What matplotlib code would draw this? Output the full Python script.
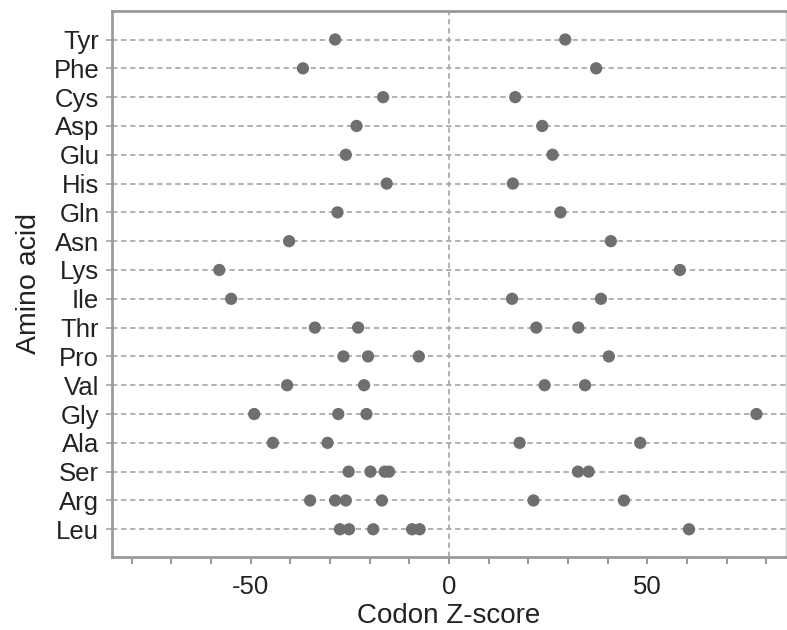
import matplotlib
matplotlib.use("Agg")
import matplotlib.pyplot as plt
from matplotlib.ticker import MultipleLocator

plt.rcParams['font.family'] = ['Liberation Sans', 'DejaVu Sans']
plt.rcParams['axes.unicode_minus'] = False

# amino acids, bottom to top
amino_acids = ['Leu', 'Arg', 'Ser', 'Ala', 'Gly', 'Val', 'Pro', 'Thr', 'Ile',
               'Lys', 'Asn', 'Gln', 'His', 'Glu', 'Asp', 'Cys', 'Phe', 'Tyr']

# codon Z-scores per amino acid
z_scores = {
    'Tyr': [-28.7, 29.3],
    'Phe': [-36.8, 37.1],
    'Cys': [-16.6, 16.7],
    'Asp': [-23.3, 23.5],
    'Glu': [-26.0, 26.1],
    'His': [-15.7, 16.1],
    'Gln': [-28.1, 28.1],
    'Asn': [-40.3, 40.8],
    'Lys': [-57.9, 58.2],
    'Ile': [-54.9, 15.9, 38.3],
    'Thr': [-33.8, -22.9, 22.0, 32.6],
    'Pro': [-26.6, -20.4, -7.6, 40.3],
    'Val': [-40.8, -21.4, 24.1, 34.3],
    'Gly': [-49.1, -27.9, -20.8, 77.5],
    'Ala': [-44.4, -30.6, 17.8, 48.2],
    'Ser': [-25.3, -19.8, -16.2, -15.1, 32.5, 35.2],
    'Arg': [-35.0, -28.7, -26.0, -16.9, 21.3, 44.1],
    'Leu': [-27.5, -25.2, -19.1, -9.3, -7.4, 60.5],
}

x_ticks = [-50, 0, 50]

fig = plt.figure(figsize=(7.87, 6.3), dpi=100)
ax = fig.add_axes([0.142, 0.116, 0.857, 0.867])

grid_col = '#ababab'
for i, aa in enumerate(amino_acids):
    ax.axhline(i, color=grid_col, linestyle=(0, (3, 2)), linewidth=1.3, zorder=1)
ax.axvline(0, color=grid_col, linestyle=(0, (3, 2)), linewidth=1.3, zorder=1)

for i, aa in enumerate(amino_acids):
    vals = z_scores[aa]
    ax.scatter(vals, [i] * len(vals), s=78, color='#6f6f6f', edgecolors='none', zorder=3)

ax.set_xlim(-85, 85)
ax.set_ylim(-0.96, 18.0)
ax.set_yticks(range(len(amino_acids)))
ax.set_yticklabels(amino_acids)
ax.set_xticks(x_ticks)
ax.xaxis.set_minor_locator(MultipleLocator(10))

spine_col = '#9a9a9a'
for side in ['left', 'bottom', 'top']:
    ax.spines[side].set_color(spine_col)
    ax.spines[side].set_linewidth(2)
ax.spines['right'].set_color('#d0d0d0')
ax.spines['right'].set_linewidth(1)

ax.tick_params(axis='x', which='both', direction='out', length=5, width=1.5,
               color=spine_col, labelsize=18.5, labelcolor='#222222', pad=8)
ax.tick_params(axis='y', direction='out', length=4, width=1.3,
               color=grid_col, labelsize=18.5, labelcolor='#222222', pad=5)

ax.set_xlabel('Codon Z-score', fontsize=20, color='#222222', labelpad=3)
ax.set_ylabel('Amino acid', fontsize=20.5, color='#222222', labelpad=8)

fig.savefig('out.png', dpi=100, facecolor='white')
